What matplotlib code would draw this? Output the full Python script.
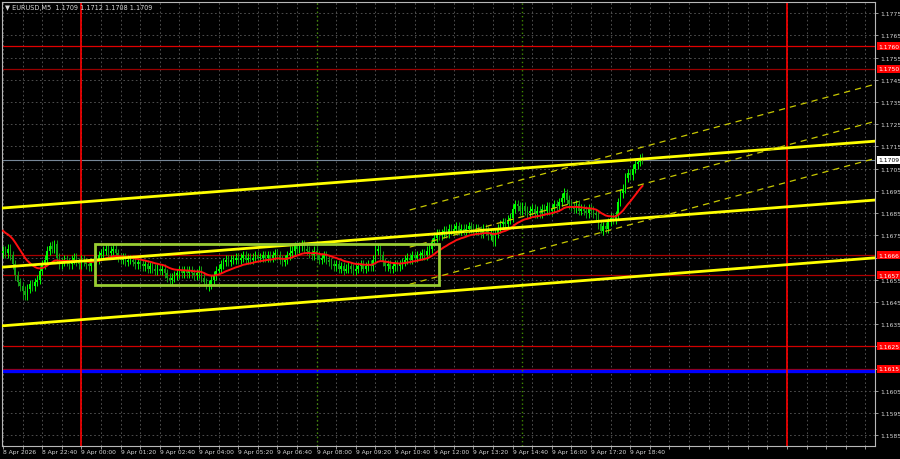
import numpy as np
import matplotlib
matplotlib.use("Agg")
import matplotlib.pyplot as plt
import matplotlib.transforms as mtransforms
from matplotlib.patches import Rectangle

title_text = "\u25bc EURUSD,M5  1.1709 1.1712 1.1708 1.1709"

# M5 closes in pips above 1.1600, first bar is 8 Apr 21:20
closes_pips = [
    68, 67, 69, 66, 62, 57, 54, 52, 50, 48,
    51, 53, 52, 54, 55, 59, 62, 64, 68, 70, 69, 71, 65, 62,
    63, 64, 63, 62, 64, 65, 63, 62, 64, 63, 62, 61, 63, 64,
    64, 66, 67, 68, 69, 67, 68, 69, 67,
    65, 64, 65, 63, 64, 64, 63, 62, 63,
    62, 61, 62, 60, 61, 60, 59, 60, 59, 60,
    58, 56, 55, 56, 57,
    58, 59, 58, 59, 58, 59, 58, 57, 58, 59,
    56, 54, 52, 53, 55, 57, 59, 60, 62, 63, 64, 63, 64,
    64, 65, 64, 65, 66, 64, 65, 64, 65, 66, 65,
    65, 66, 65, 66, 65, 66, 67, 66, 64, 63, 64, 66,
    67, 68, 70, 69, 70, 71, 69, 68,
    67, 66, 68, 66, 64, 65, 66, 64, 63,
    62, 61, 62, 60, 61, 59, 60, 61, 60, 59,
    60, 61, 62, 60, 61, 62, 61,
    64, 68, 69, 66, 63, 61, 62, 60, 61, 62, 61, 62,
    63, 64, 65, 64, 66, 65, 66, 66, 67, 66, 68, 69,
    72, 74, 76, 75,
    76, 77, 76, 78, 77, 78, 79, 77, 78, 77, 78, 79, 78, 77, 78, 77, 76, 78, 77,
    75, 76, 72,
    76, 78, 80, 81, 80, 82, 83, 87, 89, 88, 86, 88,
    86, 85, 86, 87, 85, 86, 85, 87, 86, 88, 86, 87, 89, 88,
    90, 92, 94, 91, 89, 88, 87, 89, 86,
    87, 86, 85, 87, 86, 85, 84, 80, 77, 79, 78,
    81, 83, 82, 84, 90, 94, 96, 101, 103, 102, 105, 107, 108, 110, 109,
]
first_open_pips = 67
spike_highs = {20: 72.5, 117: 70, 152: 71, 229: 96.5, 255: 105, 260: 111.5}
spike_lows = {8: 46.5, 83: 51, 140: 58, 200: 70, 244: 76}

time_labels = ["8 Apr 2026", "8 Apr 22:40", "9 Apr 00:00", "9 Apr 01:20",
               "9 Apr 02:40", "9 Apr 04:00", "9 Apr 05:20", "9 Apr 06:40",
               "9 Apr 08:00", "9 Apr 09:20", "9 Apr 10:40", "9 Apr 12:00",
               "9 Apr 13:20", "9 Apr 14:40", "9 Apr 16:00", "9 Apr 17:20",
               "9 Apr 18:40"]
bars_per_label = 16

red_levels = [1.1760, 1.1750, 1.1666, 1.1657, 1.1625, 1.1615]
red_shades = ["#e00000", "#9a0000", "#a80000", "#b00000", "#d00000", "#a80000"]
blue_level = 1.1614
last_price = 1.1709

day_bars = [32, 320]        # 9 Apr 00:00, 10 Apr 00:00
session_bars = [128, 212]   # 08:00, 15:00

# (bar, price) end points of the solid yellow channel
trend_lines = [((0, 1.16873), (355, 1.17173)),
               ((0, 1.16607), (355, 1.16908)),
               ((0, 1.16343), (355, 1.16648))]

# flat range box
box_bars = (37.5, 178)
box_prices = (1.16526, 1.16710)

# dashed regression channel
chan_start, chan_end = 166, 356
chan_mid0 = 1.16697
chan_slope = 0.0000298
chan_half = 0.00167

ma_period = 20
ma_seed = 1.1678

BG = "black"
FG = "#d8d8d8"
SMALL = 4.3

closes = 1.16 + np.array(closes_pips) / 10000
opens = np.r_[1.16 + first_open_pips / 10000, closes[:-1]]
highs = np.maximum(opens, closes) + 0.0002
lows = np.minimum(opens, closes) - 0.0002
for i, v in spike_highs.items():
    highs[i] = 1.16 + v / 10000
for i, v in spike_lows.items():
    lows[i] = 1.16 + v / 10000
x = np.arange(len(closes))

fig = plt.figure(figsize=(9, 4.6), dpi=100, facecolor=BG)
ax = fig.add_axes([2 / 900, 13 / 460, 873 / 900, 444 / 460], facecolor=BG)
ax.set_xlim(-0.4, 355.9)
ax.set_ylim(1.15802, 1.1780)

# grid and scales
yt = np.arange(1.1585, 1.1780, 0.001)
ax.set_yticks(yt)
# a price tag sits on top of a scale label where they are closer than 0.15 pip
ax.set_yticklabels(["" if min(abs(v - t) for t in red_levels + [last_price]) < 0.00015
                    else f"{v:.4f}" for v in yt])
ax.set_xticks(np.arange(0, 356, 8))
ax.set_xticklabels([])
ax.grid(True, color="#5a5a5a", lw=0.6, ls=(0, (2, 3)))
ax.set_axisbelow(True)
ax.yaxis.tick_right()
ax.tick_params(axis="y", colors="#b0b0b0", labelcolor=FG, labelsize=SMALL,
               length=2, width=0.6, pad=1.5)
ax.tick_params(axis="x", colors="#b0b0b0", length=2, width=0.6)
for s in ax.spines.values():
    s.set_color("#b8b8b8")
    s.set_linewidth(0.8)

# horizontal levels
for lv, c in zip(red_levels, red_shades):
    ax.axhline(lv, color=c, lw=0.9, zorder=1.5)
ax.axhline(blue_level, color="#0000ff", lw=2.4, zorder=1.5)
ax.axhline(last_price, color="#778899", lw=0.8, zorder=1.5)

# vertical markers
for b in day_bars:
    ax.axvline(b, color="#ff0000", lw=1.2, zorder=1.5)
for b in session_bars:
    ax.axvline(b, color="#3f8a00", lw=1.0, ls=(0, (1, 2)), zorder=1.5)

# candles
up = closes >= opens
cols = np.where(up, "#00ff00", "#14a014")
ax.vlines(x, lows, highs, color=cols, lw=0.7, zorder=3)
body_lo = np.minimum(opens, closes)
body_h = np.maximum(np.abs(closes - opens), 0.00004)
ax.bar(x, body_h, bottom=body_lo, width=0.65, color=cols, lw=0, zorder=3)

# moving average
ma = np.empty_like(closes)
prev = ma_seed
alpha = 2 / (ma_period + 1)
for i, c in enumerate(closes):
    prev += alpha * (c - prev)
    ma[i] = prev
ax.plot(x, ma, color="#ff1010", lw=1.4, zorder=4)

# channel lines
for (b0, p0), (b1, p1) in trend_lines:
    k = (p1 - p0) / (b1 - b0)
    ax.plot([-1, 357], [p0 + k * (-1 - b0), p0 + k * (357 - b0)],
            color="#ffff00", lw=2.0, zorder=5, solid_capstyle="butt")
cx = np.array([chan_start, chan_end])
for k in (-1, 0, 1):
    ax.plot(cx, chan_mid0 + chan_slope * (cx - chan_start) + k * chan_half,
            color="#c8c800", lw=0.9, ls=(0, (5, 4)), zorder=5)

ax.add_patch(Rectangle((box_bars[0], box_prices[0]), box_bars[1] - box_bars[0],
                       box_prices[1] - box_prices[0], fill=False,
                       edgecolor="#9acd32", lw=2.0, zorder=6))

# price tags on the right
tr = mtransforms.blended_transform_factory(ax.transAxes, ax.transData)
for lv in red_levels:
    ax.text(1.004, lv, f"{lv:.4f}", transform=tr, fontsize=SMALL, color="white",
            va="center", ha="left", clip_on=False, zorder=10,
            bbox=dict(boxstyle="square,pad=0.25", fc="#ff0000", ec="none"))
ax.text(1.004, last_price, f"{last_price:.4f}", transform=tr, fontsize=SMALL,
        color="black", va="center", ha="left", clip_on=False, zorder=10,
        bbox=dict(boxstyle="square,pad=0.25", fc="white", ec="none"))

# time labels
tx = mtransforms.blended_transform_factory(ax.transData, ax.transAxes)
for k, lab in enumerate(time_labels):
    ax.text(k * bars_per_label, -0.006, lab, transform=tx, fontsize=SMALL,
            color=FG, ha="left", va="top", clip_on=False)

ax.text(0.003, 0.996, title_text, transform=ax.transAxes, fontsize=4.7,
        color=FG, ha="left", va="top", zorder=10)

fig.savefig("out.png", dpi=100, facecolor=BG)
